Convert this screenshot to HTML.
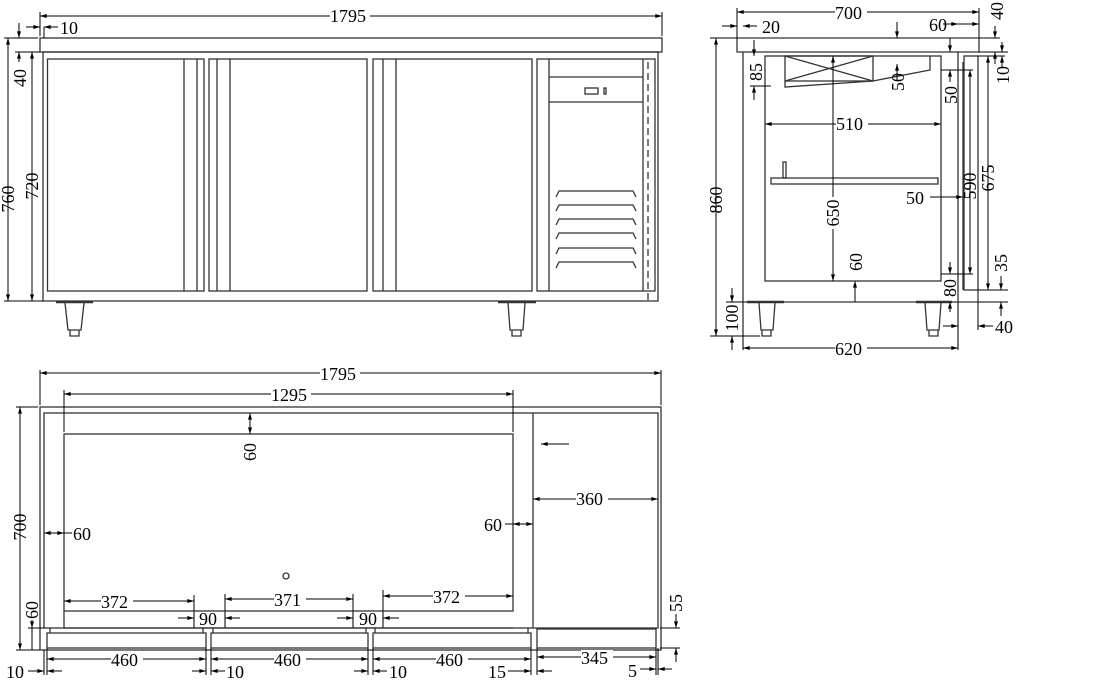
<!DOCTYPE html>
<html><head><meta charset="utf-8"><style>
html,body{margin:0;padding:0;background:#fff;width:1111px;height:691px;overflow:hidden}
svg text{font-family:"Liberation Serif",serif;font-size:18px;fill:#000}
</style></head><body>
<svg width="1111" height="691" viewBox="0 0 1111 691" xmlns="http://www.w3.org/2000/svg">
<defs>
<marker id="a" viewBox="0 0 10 6" refX="10" refY="3" markerWidth="8" markerHeight="4" markerUnits="userSpaceOnUse" orient="auto-start-reverse"><path d="M0,0L10,3L0,6z" fill="#000"/></marker>
</defs>
<g fill="none" stroke="#333" stroke-width="1.3">
<rect x="40" y="38" width="622" height="14"/>
<rect x="43" y="52" width="615" height="249"/>
<rect x="47.5" y="59" width="156.5" height="232"/>
<line x1="184" y1="59" x2="184" y2="291"/><line x1="197" y1="59" x2="197" y2="291"/>
<rect x="209" y="59" width="158" height="232"/>
<line x1="217" y1="59" x2="217" y2="291"/><line x1="230" y1="59" x2="230" y2="291"/>
<rect x="373" y="59" width="159" height="232"/>
<line x1="383" y1="59" x2="383" y2="291"/><line x1="396" y1="59" x2="396" y2="291"/>
<rect x="537" y="59" width="118" height="232"/>
<line x1="549" y1="59" x2="549" y2="291"/>
<line x1="643" y1="59" x2="643" y2="291"/>
<line x1="648" y1="62" x2="648" y2="301" stroke-dasharray="7,4"/>
<line x1="549" y1="77" x2="643" y2="77"/><line x1="549" y1="102" x2="643" y2="102"/>
<rect x="585" y="88" width="13" height="6"/><rect x="604" y="88" width="2" height="6"/>
<path d="M556,197l3,-6h74l3,6M556,211l3,-6h74l3,6M556,225l3,-6h74l3,6M556,239l3,-6h74l3,6M556,254l3,-6h74l3,6M556,268l3,-6h74l3,6"/>
<line x1="56" y1="302" x2="93" y2="302" stroke-width="2.5"/>
<path d="M65,303L68,330H81L84,303M70,330v6h9v-6"/>
<line x1="498" y1="302" x2="536" y2="302" stroke-width="2.5"/>
<path d="M508,303L510,330H523L525,303M512,330v6h9v-6"/>
<path d="M737,38H979V52H958M737,38V52H743"/>
<line x1="743" y1="52" x2="958" y2="52"/>
<line x1="743" y1="52" x2="743" y2="350"/>
<line x1="958" y1="52" x2="958" y2="350"/>
<line x1="743" y1="302" x2="958" y2="302"/>
<rect x="765" y="56" width="176" height="225"/>
<line x1="963" y1="62" x2="963" y2="290"/>
<rect x="964" y="56" width="14" height="234"/>
<rect x="785" y="56" width="88" height="25"/>
<path d="M785,56L873,81M873,56L785,81M785,81v6l88,-6l57,-11v-14"/>
<rect x="771" y="178" width="167" height="6"/>
<rect x="783" y="162" width="3" height="16"/>
<line x1="747" y1="302" x2="784" y2="302" stroke-width="2.5"/>
<path d="M759,303L761,330H773L775,303M762,330v6h9v-6"/>
<line x1="916" y1="302" x2="952" y2="302" stroke-width="2.5"/>
<path d="M925,303L927,330H939L941,303M929,330v6h9v-6"/>
<rect x="40" y="407" width="621" height="243"/>
<rect x="44" y="413" width="614" height="215"/>
<rect x="64" y="434" width="449" height="177"/>
<line x1="533" y1="413" x2="533" y2="628"/>
<line x1="64" y1="628" x2="64" y2="611"/>
<line x1="64" y1="628" x2="513" y2="628"/>
<line x1="194" y1="611" x2="194" y2="628"/><line x1="225" y1="611" x2="225" y2="628"/>
<line x1="353" y1="611" x2="353" y2="628"/><line x1="383" y1="611" x2="383" y2="628"/>
<circle cx="286" cy="576" r="3"/>
<rect x="47" y="633" width="159" height="15"/>
<rect x="211" y="633" width="157" height="15"/>
<rect x="373" y="633" width="158" height="15"/>
<rect x="537" y="629" width="119" height="19"/>
<path d="M50,628v5M203,628v5M213,628v5M366,628v5M375,628v5M528,628v5"/>
</g>
<g stroke="#000" stroke-width="1" fill="none">
<line x1="40" y1="16" x2="662" y2="16" marker-start="url(#a)" marker-end="url(#a)"/>
<line x1="40" y1="12" x2="40" y2="36"/><line x1="662" y1="12" x2="662" y2="36"/>
<line x1="26" y1="27" x2="40" y2="27" marker-end="url(#a)"/><line x1="58" y1="27" x2="44" y2="27" marker-end="url(#a)"/>
<line x1="44" y1="27" x2="44" y2="38"/>
<line x1="8" y1="38" x2="8" y2="301" marker-start="url(#a)" marker-end="url(#a)"/>
<line x1="32" y1="52" x2="32" y2="301" marker-start="url(#a)" marker-end="url(#a)"/>
<line x1="19" y1="23" x2="19" y2="38" marker-end="url(#a)"/><line x1="19" y1="62" x2="19" y2="52" marker-end="url(#a)"/>
<line x1="4" y1="38" x2="38" y2="38"/><line x1="15" y1="52" x2="40" y2="52"/><line x1="4" y1="301" x2="43" y2="301"/>
<line x1="737" y1="12" x2="979" y2="12" marker-start="url(#a)" marker-end="url(#a)"/>
<line x1="737" y1="8" x2="737" y2="38"/><line x1="979" y1="8" x2="979" y2="38"/>
<line x1="722" y1="26" x2="737" y2="26" marker-end="url(#a)"/><line x1="757" y1="26" x2="743" y2="26" marker-end="url(#a)"/>
<line x1="943" y1="24" x2="958" y2="24" marker-end="url(#a)"/><line x1="979" y1="24" x2="958" y2="24" marker-start="url(#a)"/>
<line x1="716" y1="38" x2="716" y2="336" marker-start="url(#a)" marker-end="url(#a)"/>
<line x1="710" y1="38" x2="737" y2="38"/><line x1="710" y1="336" x2="760" y2="336"/>
<line x1="732" y1="288" x2="732" y2="302" marker-end="url(#a)"/><line x1="732" y1="350" x2="732" y2="336" marker-end="url(#a)"/>
<line x1="726" y1="302" x2="743" y2="302"/>
<line x1="743" y1="348" x2="958" y2="348" marker-start="url(#a)" marker-end="url(#a)"/>
<line x1="765" y1="124" x2="941" y2="124" marker-start="url(#a)" marker-end="url(#a)"/>
<line x1="833" y1="56" x2="833" y2="281" marker-start="url(#a)" marker-end="url(#a)"/>
<line x1="855" y1="296" x2="855" y2="281" marker-end="url(#a)"/><line x1="855" y1="302" x2="855" y2="296"/>
<line x1="754" y1="40" x2="754" y2="56" marker-end="url(#a)"/><line x1="754" y1="100" x2="754" y2="86" marker-end="url(#a)"/>
<line x1="750" y1="86" x2="771" y2="86"/>
<line x1="897" y1="22" x2="897" y2="38" marker-end="url(#a)"/><line x1="897" y1="80" x2="897" y2="64" marker-end="url(#a)"/>
<line x1="950" y1="38" x2="950" y2="52" marker-end="url(#a)"/><line x1="950" y1="82" x2="950" y2="70" marker-end="url(#a)"/>
<line x1="941" y1="70" x2="973" y2="70"/>
<line x1="970" y1="70" x2="970" y2="274" marker-start="url(#a)" marker-end="url(#a)"/>
<line x1="941" y1="274" x2="973" y2="274"/>
<line x1="930" y1="197" x2="963" y2="197" marker-end="url(#a)"/>
<line x1="950" y1="262" x2="950" y2="274" marker-end="url(#a)"/><line x1="950" y1="312" x2="950" y2="302" marker-end="url(#a)"/>
<line x1="988" y1="56" x2="988" y2="290" marker-start="url(#a)" marker-end="url(#a)"/>
<line x1="978" y1="56" x2="1005" y2="56"/><line x1="978" y1="290" x2="1008" y2="290"/><line x1="958" y1="302" x2="1008" y2="302"/>
<line x1="1001" y1="276" x2="1001" y2="290" marker-end="url(#a)"/><line x1="1001" y1="316" x2="1001" y2="302" marker-end="url(#a)"/>
<line x1="995" y1="26" x2="995" y2="38" marker-end="url(#a)"/><line x1="995" y1="64" x2="995" y2="52" marker-end="url(#a)"/>
<line x1="979" y1="52" x2="1008" y2="52"/><line x1="979" y1="38" x2="1000" y2="38"/>
<line x1="1002" y1="42" x2="1002" y2="52" marker-end="url(#a)"/><line x1="1002" y1="68" x2="1002" y2="56" marker-end="url(#a)"/>
<line x1="943" y1="326" x2="958" y2="326" marker-end="url(#a)"/><line x1="993" y1="326" x2="978" y2="326" marker-end="url(#a)"/>
<line x1="978" y1="290" x2="978" y2="330"/>
<line x1="40" y1="373" x2="661" y2="373" marker-start="url(#a)" marker-end="url(#a)"/>
<line x1="40" y1="370" x2="40" y2="405"/><line x1="661" y1="370" x2="661" y2="405"/>
<line x1="64" y1="394" x2="513" y2="394" marker-start="url(#a)" marker-end="url(#a)"/>
<line x1="64" y1="390" x2="64" y2="432"/><line x1="513" y1="390" x2="513" y2="432"/>
<line x1="250" y1="413" x2="250" y2="434" marker-start="url(#a)" marker-end="url(#a)"/>
<line x1="20" y1="407" x2="20" y2="650" marker-start="url(#a)" marker-end="url(#a)"/>
<line x1="16" y1="407" x2="38" y2="407"/><line x1="16" y1="650" x2="40" y2="650"/>
<line x1="32" y1="620" x2="32" y2="628" marker-end="url(#a)"/><line x1="32" y1="650" x2="32" y2="628"/><line x1="28" y1="628" x2="44" y2="628"/>
<line x1="44" y1="533" x2="64" y2="533" marker-start="url(#a)" marker-end="url(#a)"/><line x1="64" y1="533" x2="72" y2="533"/>
<line x1="513" y1="524" x2="533" y2="524" marker-start="url(#a)" marker-end="url(#a)"/><line x1="505" y1="524" x2="513" y2="524"/>
<line x1="533" y1="499" x2="658" y2="499" marker-start="url(#a)" marker-end="url(#a)"/>
<line x1="569" y1="444" x2="541" y2="444" marker-end="url(#a)"/>
<line x1="64" y1="601" x2="194" y2="601" marker-start="url(#a)" marker-end="url(#a)"/><line x1="194" y1="595" x2="194" y2="611"/>
<line x1="225" y1="599" x2="353" y2="599" marker-start="url(#a)" marker-end="url(#a)"/><line x1="225" y1="594" x2="225" y2="611"/><line x1="353" y1="594" x2="353" y2="611"/>
<line x1="383" y1="596" x2="513" y2="596" marker-start="url(#a)" marker-end="url(#a)"/><line x1="383" y1="590" x2="383" y2="611"/>
<line x1="178" y1="618" x2="194" y2="618" marker-end="url(#a)"/><line x1="240" y1="618" x2="225" y2="618" marker-end="url(#a)"/>
<line x1="337" y1="618" x2="353" y2="618" marker-end="url(#a)"/><line x1="399" y1="618" x2="383" y2="618" marker-end="url(#a)"/>
<line x1="47" y1="659" x2="206" y2="659" marker-start="url(#a)" marker-end="url(#a)"/>
<line x1="211" y1="659" x2="368" y2="659" marker-start="url(#a)" marker-end="url(#a)"/>
<line x1="373" y1="659" x2="531" y2="659" marker-start="url(#a)" marker-end="url(#a)"/>
<line x1="537" y1="657" x2="656" y2="657" marker-start="url(#a)" marker-end="url(#a)"/>
<path d="M44,650v25M47,648v27M206,648v27M211,648v27M368,648v27M373,648v27M531,648v27M537,648v27M656,648v27M658,648v27"/>
<line x1="28" y1="671" x2="44" y2="671" marker-end="url(#a)"/><line x1="62" y1="671" x2="47" y2="671" marker-end="url(#a)"/>
<line x1="192" y1="671" x2="206" y2="671" marker-end="url(#a)"/><line x1="225" y1="671" x2="211" y2="671" marker-end="url(#a)"/>
<line x1="354" y1="671" x2="368" y2="671" marker-end="url(#a)"/><line x1="387" y1="671" x2="373" y2="671" marker-end="url(#a)"/>
<line x1="508" y1="671" x2="531" y2="671" marker-end="url(#a)"/><line x1="552" y1="671" x2="537" y2="671" marker-end="url(#a)"/>
<line x1="640" y1="669" x2="656" y2="669" marker-end="url(#a)"/><line x1="672" y1="669" x2="658" y2="669" marker-end="url(#a)"/>
<line x1="676" y1="614" x2="676" y2="628" marker-end="url(#a)"/><line x1="676" y1="662" x2="676" y2="648" marker-end="url(#a)"/>
<line x1="660" y1="628" x2="680" y2="628"/><line x1="660" y1="648" x2="680" y2="648"/>
</g>
<g>
<rect x="330" y="8" width="40" height="14" fill="#fff"/>
<text x="330" y="22">1795</text>
<text x="60" y="34">10</text>
<text transform="translate(14,199) rotate(-90)" text-anchor="middle">760</text>
<text transform="translate(38,186) rotate(-90)" text-anchor="middle">720</text>
<text transform="translate(26,78) rotate(-90)" text-anchor="middle">40</text>
<rect x="835" y="4" width="32" height="14" fill="#fff"/>
<text x="835" y="19">700</text>
<text x="762" y="33">20</text>
<text x="929" y="31">60</text>
<text transform="translate(1003,11) rotate(-90)" text-anchor="middle">40</text>
<text transform="translate(1009,75) rotate(-90)" text-anchor="middle">10</text>
<text transform="translate(722,200) rotate(-90)" text-anchor="middle">860</text>
<text transform="translate(738,318) rotate(-90)" text-anchor="middle">100</text>
<text transform="translate(762,72) rotate(-90)" text-anchor="middle">85</text>
<text transform="translate(904,82) rotate(-90)" text-anchor="middle">50</text>
<text transform="translate(957,95) rotate(-90)" text-anchor="middle">50</text>
<rect x="836" y="117" width="32" height="14" fill="#fff"/>
<text x="836" y="130">510</text>
<rect x="826" y="197" width="14" height="32" fill="#fff"/>
<text transform="translate(839,213) rotate(-90)" text-anchor="middle">650</text>
<text transform="translate(862,262) rotate(-90)" text-anchor="middle">60</text>
<text x="906" y="204">50</text>
<text transform="translate(976,186) rotate(-90)" text-anchor="middle">590</text>
<text transform="translate(994,178) rotate(-90)" text-anchor="middle">675</text>
<text transform="translate(1007,263) rotate(-90)" text-anchor="middle">35</text>
<text transform="translate(956,288) rotate(-90)" text-anchor="middle">80</text>
<text x="995" y="333">40</text>
<rect x="835" y="341" width="32" height="14" fill="#fff"/>
<text x="835" y="355">620</text>
<rect x="320" y="366" width="40" height="14" fill="#fff"/>
<text x="320" y="380">1795</text>
<rect x="271" y="387" width="40" height="14" fill="#fff"/>
<text x="271" y="401">1295</text>
<text transform="translate(256,452) rotate(-90)" text-anchor="middle">60</text>
<text transform="translate(26,527) rotate(-90)" text-anchor="middle">700</text>
<text transform="translate(38,610) rotate(-90)" text-anchor="middle">60</text>
<text x="73" y="540">60</text>
<text x="484" y="531">60</text>
<rect x="576" y="491" width="32" height="14" fill="#fff"/>
<text x="576" y="505">360</text>
<rect x="101" y="594" width="32" height="14" fill="#fff"/>
<text x="101" y="608">372</text>
<rect x="274" y="592" width="32" height="14" fill="#fff"/>
<text x="274" y="606">371</text>
<rect x="433" y="589" width="32" height="14" fill="#fff"/>
<text x="433" y="603">372</text>
<text x="199" y="625">90</text>
<text x="359" y="625">90</text>
<text transform="translate(682,603) rotate(-90)" text-anchor="middle">55</text>
<rect x="111" y="652" width="32" height="14" fill="#fff"/><text x="111" y="666">460</text>
<rect x="274" y="652" width="32" height="14" fill="#fff"/><text x="274" y="666">460</text>
<rect x="436" y="652" width="32" height="14" fill="#fff"/><text x="436" y="666">460</text>
<rect x="581" y="650" width="32" height="14" fill="#fff"/><text x="581" y="664">345</text>
<text x="6" y="678">10</text>
<text x="226" y="678">10</text>
<text x="389" y="678">10</text>
<text x="488" y="678">15</text>
<text x="628" y="677">5</text>
</g>
</svg>
</body></html>
